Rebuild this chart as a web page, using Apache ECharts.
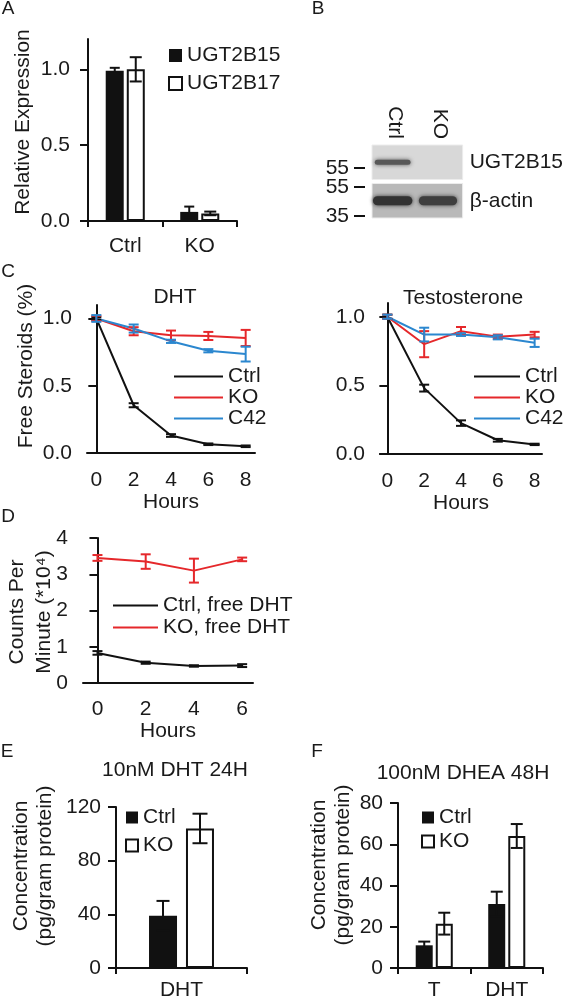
<!DOCTYPE html>
<html><head><meta charset="utf-8">
<script src="https://cdn.jsdelivr.net/npm/echarts@6/dist/echarts.min.js"></script>
<style>html,body{margin:0;padding:0;background:#fff}#c{width:566px;height:1003px}</style>
</head><body><div id="c"></div>
<script>
// ---------- DATA ----------
// Panel A
const aCats = ['Ctrl', 'KO'];
const aUGT2B15 = [0.99, 0.06];
const aUGT2B15Err = [0.02, 0.035];
const aUGT2B17 = [1.00, 0.05];
const aUGT2B17Err = [0.08, 0.012];
const aTicks = [0, 0.5, 1.0];
// Panel B (western blot, relative band intensity per row x lane)
const blotLanes = ['Ctrl', 'KO'];
const blotRows = ['UGT2B15', 'β-actin'];
const blotIntensity = [[0.75, 0.0], [1.0, 0.92]];
const mwLabels = ['55', '55', '35'];
// Panel C
const hours = [0, 2, 4, 6, 8];
const cTicks = [0, 0.5, 1.0];
const dhtCtrl = [1.0, 0.355, 0.13, 0.065, 0.05];
const dhtCtrlErr = [0.01, 0.015, 0.01, 0.006, 0.006];
const dhtKO = [1.0, 0.905, 0.875, 0.87, 0.855];
const dhtKOErr = [0.02, 0.03, 0.035, 0.03, 0.06];
const dhtC42 = [1.0, 0.925, 0.83, 0.76, 0.735];
const dhtC42Err = [0.025, 0.03, 0.012, 0.012, 0.055];
const testCtrl = [1.0, 0.48, 0.225, 0.10, 0.07];
const testCtrlErr = [0.015, 0.025, 0.02, 0.01, 0.005];
const testKO = [1.0, 0.80, 0.895, 0.855, 0.87];
const testKOErr = [0.015, 0.095, 0.03, 0.015, 0.02];
const testC42 = [1.0, 0.87, 0.87, 0.85, 0.81];
const testC42Err = [0.015, 0.05, 0.01, 0.015, 0.03];
// Panel D
const dHours = [0, 2, 4, 6];
const dTicks = [0, 1, 2, 3, 4];
const dCtrl = [0.83, 0.56, 0.47, 0.48];
const dCtrlErr = [0.05, 0.03, 0.02, 0.04];
const dKO = [3.45, 3.35, 3.10, 3.41];
const dKOErr = [0.08, 0.2, 0.33, 0.05];
// Panel E
const eCats = ['DHT'];
const eTicks = [0, 40, 80, 120];
const eCtrl = [39];
const eCtrlErr = [11];
const eKO = [104];
const eKOErr = [11];
// Panel F
const fCats = ['T', 'DHT'];
const fTicks = [0, 20, 40, 60, 80];
const fCtrl = [11, 31];
const fCtrlErr = [1.8, 6];
const fKO = [21.5, 64];
const fKOErr = [5.3, 5.8];

// ---------- STYLE ----------
const FONT = '"Liberation Sans", Arial, Helvetica, sans-serif';
const TXT = '#1a1a1a';
const AX = '#111';
const RED = '#e5282b';
const BLUE = '#2b87cf';
const FS = 21;

function yAx(grid, min, max, ticks, fmt, margin) {
  return {type: 'value', gridIndex: grid, min: min, max: max,
    axisLine: {show: true, lineStyle: {color: AX, width: 2}},
    axisTick: {show: true, length: 8, customValues: ticks, lineStyle: {color: AX, width: 2}},
    axisLabel: {customValues: ticks, formatter: fmt, color: TXT, fontSize: FS, fontFamily: FONT, margin: margin},
    splitLine: {show: false}};
}
function xVal(grid, min, max, ticks, margin, gap) {
  return {type: 'value', gridIndex: grid, min: min, max: max,
    name: 'Hours', nameLocation: 'middle', nameGap: gap,
    nameTextStyle: {color: TXT, fontSize: FS, fontFamily: FONT},
    axisLine: {show: true, onZero: false, lineStyle: {color: AX, width: 2}},
    axisTick: {show: false},
    axisLabel: {customValues: ticks, color: TXT, fontSize: FS, fontFamily: FONT, margin: margin},
    splitLine: {show: false}};
}
function xCat(grid, cats, margin) {
  return {type: 'category', gridIndex: grid, data: cats,
    axisLine: {show: true, lineStyle: {color: AX, width: 2}},
    axisTick: {show: true, length: 6, lineStyle: {color: AX, width: 2}},
    axisLabel: {color: TXT, fontSize: FS, fontFamily: FONT, margin: margin},
    splitLine: {show: false}};
}
function errRender(color, cap, offset) {
  return function (params, api) {
    const x = api.value(0), y = api.value(1), e = api.value(2);
    const t = api.coord([x, y + e]), b = api.coord([x, y - e]);
    const px = t[0] + offset;
    const st = {stroke: color, lineWidth: 2};
    return {type: 'group', children: [
      {type: 'line', shape: {x1: px, y1: t[1], x2: px, y2: b[1]}, style: st},
      {type: 'line', shape: {x1: px - cap / 2, y1: t[1], x2: px + cap / 2, y2: t[1]}, style: st},
      {type: 'line', shape: {x1: px - cap / 2, y1: b[1], x2: px + cap / 2, y2: b[1]}, style: st}
    ]};
  };
}
function errSeries(grid, xs, vals, errs, color, cap, offset) {
  return {type: 'custom', xAxisIndex: grid, yAxisIndex: grid, z: 5, clip: false,
    renderItem: errRender(color, cap, offset),
    data: vals.map((v, i) => [xs[i], v, errs[i]])};
}
function lineSeries(grid, name, xs, vals, color) {
  return {type: 'line', name: name, xAxisIndex: grid, yAxisIndex: grid, symbol: 'none', showSymbol: false,
    lineStyle: {color: color, width: 2}, itemStyle: {color: color}, z: 3,
    data: vals.map((v, i) => [xs[i], v])};
}
function barSeries(grid, name, vals, black, width, gap) {
  return {type: 'bar', name: name, xAxisIndex: grid, yAxisIndex: grid, barWidth: width, barGap: gap,
    itemStyle: black ? {color: '#111', borderColor: '#111', borderWidth: 0} : {color: '#fff', borderColor: '#111', borderWidth: 2},
    data: vals};
}
const idx = a => a.map((_, i) => i);
const strip = n => n.replace(/^[^_]*_/, '');
function legend(left, top, names, w, h, gap, icons) {
  const lg = {left: left, top: top, orient: 'vertical', itemWidth: w, itemHeight: h, itemGap: gap,
    padding: 0, selectedMode: false, formatter: strip,
    textStyle: {color: TXT, fontSize: FS, fontFamily: FONT},
    data: names.map((n, i) => icons ? {name: n, icon: 'rect', itemStyle: icons[i]} : {name: n})};
  if (!icons) lg.itemStyle = {color: 'rgba(0,0,0,0)', borderWidth: 0, opacity: 0};
  return lg;
}
const blackIcon = {color: '#111', borderColor: '#111', borderWidth: 0};
const whiteIcon = {color: '#fff', borderColor: '#111', borderWidth: 2};

// blot renderers
function blotBg(params, api) {
  const r = api.value(0);
  const c = api.coord([0, r]);
  const h = api.size([1, 1])[1];
  const cs = params.coordSys;
  const shade = r === 0 ? '#d8d8d8' : '#b9b9b9';
  return {type: 'rect', shape: {x: cs.x, y: c[1] - h / 2 + 2, width: cs.width, height: h - 4},
    style: {fill: shade, stroke: '#ececec', lineWidth: 1}};
}
function blotBand(params, api) {
  const lane = api.value(0), row = api.value(1), inten = api.value(2);
  if (inten < 0.05) return null;
  const c = api.coord([lane, row]);
  const sz = api.size([1, 1]);
  const w = sz[0] * (0.55 + 0.32 * inten);
  const bh = row === 0 ? 5 : 9;
  const g = Math.round(200 - inten * 150);
  const col = 'rgb(' + g + ',' + g + ',' + g + ')';
  return {type: 'rect', shape: {x: c[0] - w / 2 - 2, y: c[1] - bh / 2, width: w, height: bh, r: bh / 2},
    style: {fill: col, shadowBlur: 4, shadowColor: col}};
}

const grids = [
  {left: 88, top: 39, width: 149, height: 182},
  {left: 372, top: 143, width: 94, height: 77},
  {left: 87, top: 305, width: 168, height: 148},
  {left: 380, top: 303, width: 162, height: 151},
  {left: 83, top: 538, width: 170, height: 145},
  {left: 116, top: 807, width: 131, height: 161},
  {left: 398, top: 803, width: 145, height: 165}
];

const f1 = v => v.toFixed(1);
const f0 = v => String(v);

const option = {
  animation: false,
  backgroundColor: '#fff',
  textStyle: {fontFamily: FONT},
  grid: grids,
  xAxis: [
    xCat(0, aCats, 15),
    {type: 'category', gridIndex: 1, data: blotLanes, position: 'top',
      axisLine: {show: false}, axisTick: {show: false},
      axisLabel: {rotate: 90, margin: 4, color: TXT, fontSize: FS, fontFamily: FONT}},
    xVal(2, -0.5, 8.5, hours, 17, 32),
    xVal(3, -0.4, 8.4, hours, 17, 32),
    xVal(4, -0.6, 6.45, dHours, 16, 30),
    xCat(5, eCats, 12),
    xCat(6, fCats, 12)
  ],
  yAxis: [
    yAx(0, 0, 1.2, aTicks, f1, 18),
    {type: 'category', gridIndex: 1, data: blotRows, inverse: true, position: 'right',
      axisLine: {show: false}, axisTick: {show: false},
      axisLabel: {margin: 7, color: TXT, fontSize: FS, fontFamily: FONT}},
    yAx(2, 0, 1.1, cTicks, f1, 15),
    yAx(3, 0, 1.1, cTicks, f1, 15),
    yAx(4, 0, 4, dTicks, f0, 15),
    yAx(5, 0, 120, eTicks, f0, 15),
    yAx(6, 0, 80, fTicks, f0, 15)
  ],
  legend: [
    legend(168, 45, ['A_UGT2B15', 'A_UGT2B17'], 13, 13, 7, [blackIcon, whiteIcon]),
    legend(173, 366, ['C1_Ctrl', 'C1_KO', 'C1_C42'], 49, 14, 0),
    legend(473, 366, ['C2_Ctrl', 'C2_KO', 'C2_C42'], 46, 14, 0),
    legend(112, 595, ['D_Ctrl, free DHT', 'D_KO, free DHT'], 45, 14, 1),
    legend(125, 807, ['E_Ctrl', 'E_KO'], 12, 12, 7, [blackIcon, whiteIcon]),
    legend(421, 807, ['F_Ctrl', 'F_KO'], 12, 12, 3, [blackIcon, whiteIcon])
  ],
  series: [
    // A
    barSeries(0, 'A_UGT2B15', aUGT2B15, true, 18, '17%'),
    barSeries(0, 'A_UGT2B17', aUGT2B17, false, 18, '17%'),
    errSeries(0, idx(aCats), aUGT2B15, aUGT2B15Err, '#111', 10, -10.5),
    errSeries(0, idx(aCats), aUGT2B17, aUGT2B17Err, '#111', 12, 10.5),
    // B
    {type: 'custom', xAxisIndex: 1, yAxisIndex: 1, renderItem: blotBg, z: 1,
      data: blotRows.map((r, i) => [i])},
    {type: 'custom', xAxisIndex: 1, yAxisIndex: 1, renderItem: blotBand, z: 2,
      data: blotIntensity.flatMap((row, ri) => row.map((v, li) => [li, ri, v]))},
    // C DHT
    lineSeries(2, 'C1_Ctrl', hours, dhtCtrl, '#111'),
    lineSeries(2, 'C1_KO', hours, dhtKO, RED),
    lineSeries(2, 'C1_C42', hours, dhtC42, BLUE),
    errSeries(2, hours, dhtCtrl, dhtCtrlErr, '#111', 10, 0),
    errSeries(2, hours, dhtKO, dhtKOErr, RED, 10, 0),
    errSeries(2, hours, dhtC42, dhtC42Err, BLUE, 10, 0),
    // C Testosterone
    lineSeries(3, 'C2_Ctrl', hours, testCtrl, '#111'),
    lineSeries(3, 'C2_KO', hours, testKO, RED),
    lineSeries(3, 'C2_C42', hours, testC42, BLUE),
    errSeries(3, hours, testCtrl, testCtrlErr, '#111', 10, 0),
    errSeries(3, hours, testKO, testKOErr, RED, 10, 0),
    errSeries(3, hours, testC42, testC42Err, BLUE, 10, 0),
    // D
    lineSeries(4, 'D_Ctrl, free DHT', dHours, dCtrl, '#111'),
    lineSeries(4, 'D_KO, free DHT', dHours, dKO, RED),
    errSeries(4, dHours, dCtrl, dCtrlErr, '#111', 10, 0),
    errSeries(4, dHours, dKO, dKOErr, RED, 10, 0),
    // E
    barSeries(5, 'E_Ctrl', eCtrl, true, 28, '32%'),
    barSeries(5, 'E_KO', eKO, false, 28, '32%'),
    errSeries(5, idx(eCats), eCtrl, eCtrlErr, '#111', 13, -18.5),
    errSeries(5, idx(eCats), eKO, eKOErr, '#111', 15, 18.5),
    // F
    barSeries(6, 'F_Ctrl', fCtrl, true, 17, '18%'),
    barSeries(6, 'F_KO', fKO, false, 17, '18%'),
    errSeries(6, idx(fCats), fCtrl, fCtrlErr, '#111', 12, -10),
    errSeries(6, idx(fCats), fKO, fKOErr, '#111', 12, 10)
  ],
  graphic: []
};

// text helpers
const txt = (text, x, y, opt) => Object.assign({type: 'text', x: x, y: y, silent: true,
  style: Object.assign({text: text, fill: TXT, font: FS + 'px ' + FONT, textAlign: 'center', textVerticalAlign: 'middle'}, (opt && opt.style) || {})},
  opt && opt.rotation !== undefined ? {rotation: opt.rotation} : {});
const rot = (text, x, y, lh) => txt(text, x, y, {rotation: Math.PI / 2, style: {lineHeight: lh || 26}});

const g = option.graphic;
// panel letters
[['A', 8, 9], ['B', 318, 9], ['C', 8, 272], ['D', 8, 517], ['E', 7, 752], ['F', 317, 752]]
  .forEach(p => g.push(txt(p[0], p[1], p[2], {style: {font: '19px ' + FONT}})));
// panel titles
g.push(txt('DHT', 175, 297));
g.push(txt('Testosterone', 463, 298));
g.push(txt('10nM DHT 24H', 175, 770));
g.push(txt('100nM DHEA 48H', 463, 773));
// y-axis titles
g.push(rot('Relative Expression', 23, 122));
g.push(rot('Free Steroids (%)', 26, 366));
g.push(rot('Counts Per\nMinute (*10⁴)', 31, 612, 27));
g.push(rot('Concentration\n(pg/gram protein)', 33, 866, 24));
g.push(rot('Concentration\n(pg/gram protein)', 331, 865, 24));
// blot molecular weight markers
const mwY = [168, 187, 216];
mwLabels.forEach((m, i) => {
  g.push(txt(m, 349, mwY[i], {style: {textAlign: 'right'}}));
  g.push({type: 'line', silent: true, shape: {x1: 354, y1: mwY[i], x2: 365, y2: mwY[i]}, style: {stroke: '#111', lineWidth: 2}});
});

const chart = echarts.init(document.getElementById('c'), null, {renderer: 'canvas'});
chart.setOption(option);
</script></body></html>
